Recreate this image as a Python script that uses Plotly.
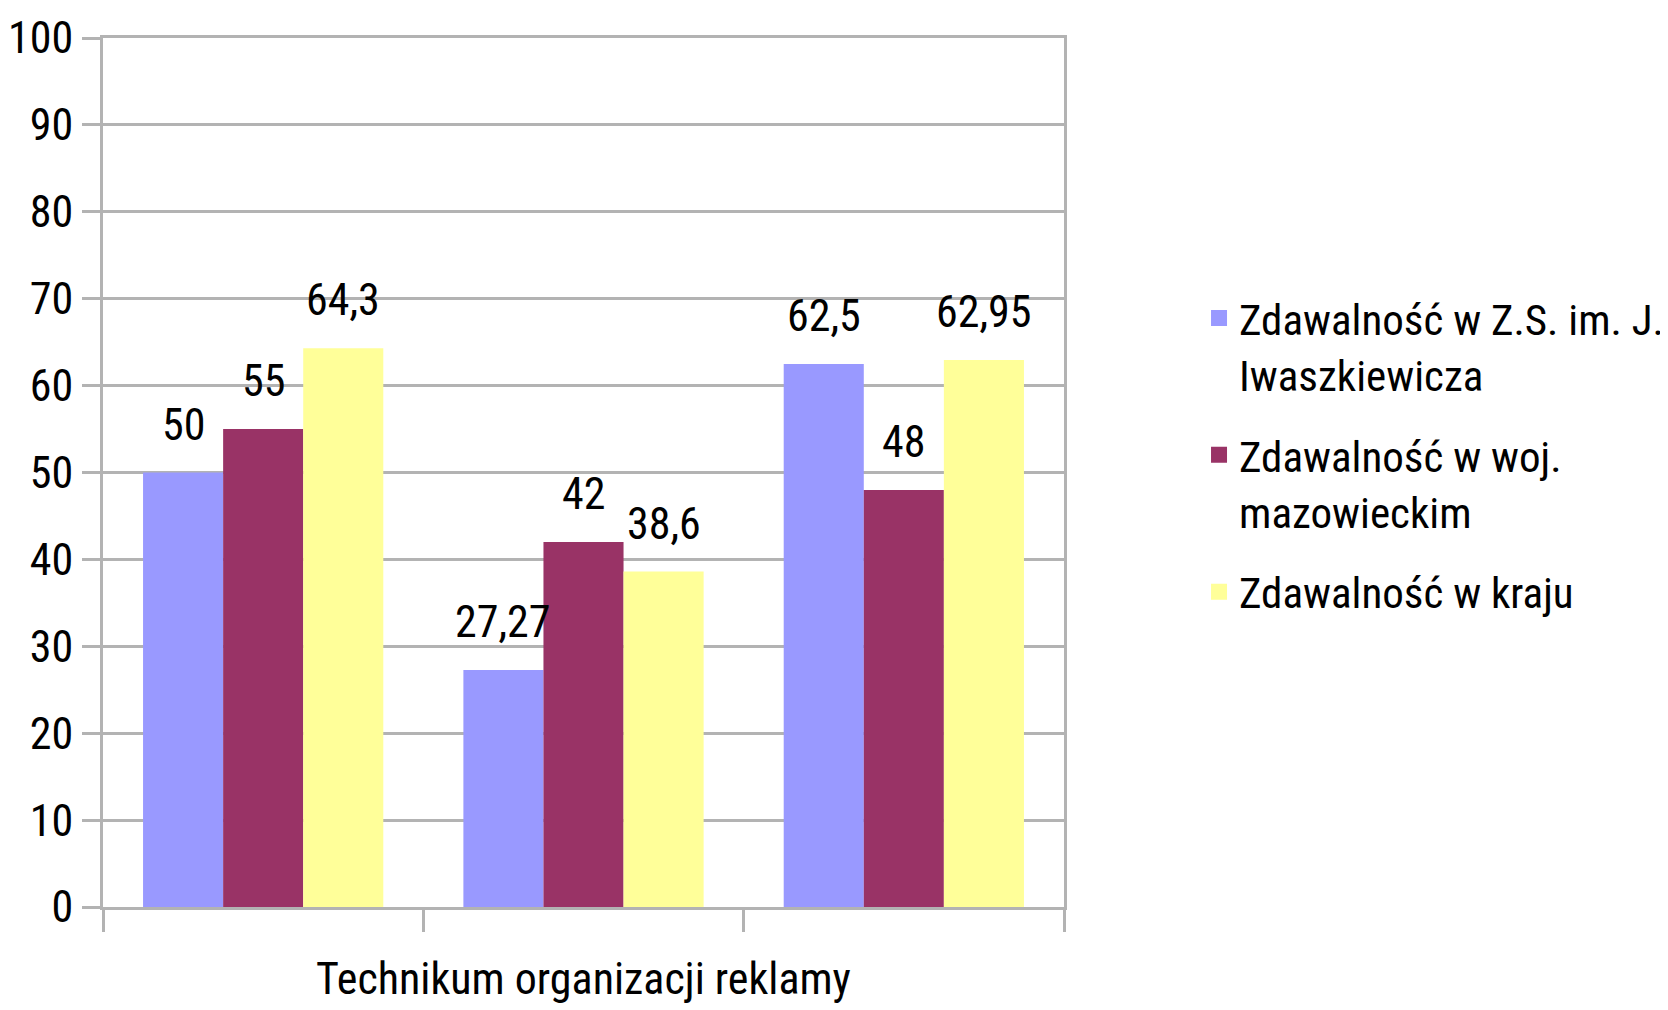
import plotly.graph_objects as go

categories = ["g1", "g2", "g3"]
category_labels = ["", "Technikum organizacji reklamy", ""]
series_names = [
    "Zdawalność w Z.S. im. J.<br>Iwaszkiewicza",
    "Zdawalność w woj.<br>mazowieckim",
    "Zdawalność w kraju",
]
school = [50, 27.27, 62.5]
region = [55, 42, 48]
country = [64.3, 38.6, 62.95]
colors = ["#9999ff", "#993366", "#ffff99"]
y_ticks = list(range(0, 101, 10))

FONT = "Liberation Sans Narrow, Arial Narrow, Roboto Condensed, Liberation Sans, sans-serif"
GRID = "#b3b3b3"

series = [school, region, country]
fig = go.Figure()
for k, (name, vals, col) in enumerate(zip(series_names, series, colors)):
    fig.add_trace(go.Bar(
        x=categories, y=vals, name=name, legendgroup=f"s{k}", showlegend=False,
        marker=dict(color=col, line=dict(width=0)),
    ))
# legend entries (square swatches)
for k, (name, col) in enumerate(zip(series_names, colors)):
    fig.add_trace(go.Scatter(
        x=[None], y=[None], mode="markers", name=name, legendgroup=f"s{k}",
        marker=dict(symbol="square", size=16, color=col, line=dict(width=0)),
        hoverinfo="skip",
    ))

bargap = 0.25
n = len(series)
w = (1 - bargap) / n
annotations = []
for j, vals in enumerate(series):
    for i, v in enumerate(vals):
        xpos = i - (1 - bargap) / 2 + w * (j + 0.5)
        annotations.append(dict(
            x=xpos, y=v, xref="x", yref="y",
            text=f"{v:g}".replace(".", ","),
            showarrow=False, yanchor="middle", yshift=48,
            font=dict(family=FONT, size=44, color="#000000"),
        ))

fig.update_layout(
    width=1668, height=1002,
    margin=dict(l=95, r=612, t=30, b=103, autoexpand=False),
    paper_bgcolor="white", plot_bgcolor="white",
    barmode="group", bargap=bargap, bargroupgap=0,
    font=dict(family=FONT, size=44, color="#000000"),
    annotations=annotations,
    legend=dict(
        x=1.1405, xanchor="left", y=0.52, yanchor="middle",
        font=dict(family=FONT, size=43, color="#000000"),
        tracegroupgap=22, itemsizing="trace", valign="top",
    ),
    showlegend=True,
)
fig.update_xaxes(
    tickvals=categories, ticktext=category_labels, tickangle=0, automargin=False,
    tickson="boundaries", ticks="outside", ticklen=22, tickwidth=3, tickcolor=GRID,
    showline=True, linecolor=GRID, linewidth=3, mirror=True,
    showgrid=False, ticklabelstandoff=31,
    tickfont=dict(family=FONT, size=44, color="#000000"),
)
fig.update_yaxes(
    range=[0, 100], tickvals=y_ticks, automargin=False,
    ticks="outside", ticklen=18, tickwidth=3, tickcolor=GRID,
    showline=True, linecolor=GRID, linewidth=3, mirror=True,
    showgrid=True, gridcolor=GRID, gridwidth=3, zeroline=False,
    tickfont=dict(family=FONT, size=44, color="#000000"),
)

fig.write_html("out.html")
